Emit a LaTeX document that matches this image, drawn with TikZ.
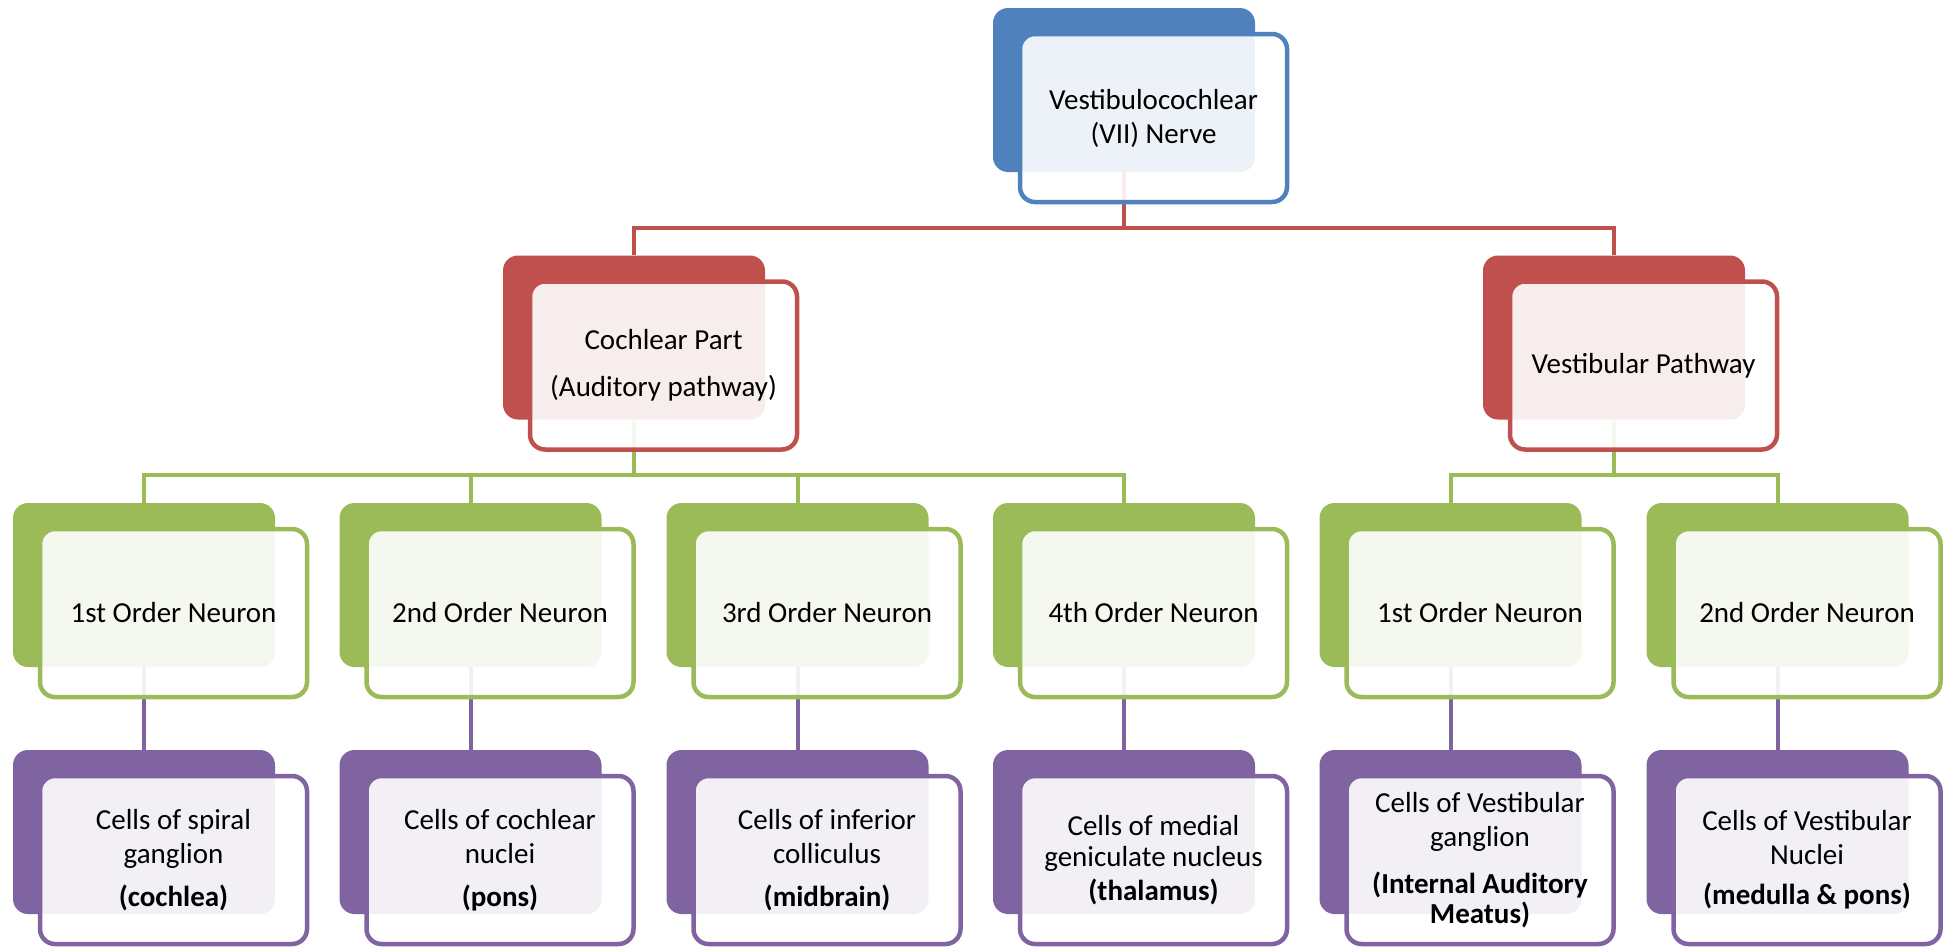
\documentclass[tikz,border=0pt]{standalone}
\usepackage{fontspec}
\setmainfont{Carlito}

\definecolor{nerveblue}{HTML}{4F81BD}
\definecolor{partred}{HTML}{C0504D}
\definecolor{neurongreen}{HTML}{9BBB59}
\definecolor{cellpurple}{HTML}{8064A2}

\tikzset{
  back/.style={rectangle, rounded corners=7.5pt, fill=#1, inner sep=0pt,
    minimum width=131pt, minimum height=82pt},
  front/.style={rectangle, rounded corners=7.5pt, draw=#1, line width=2.25pt,
    fill=white, fill opacity=0.9, text opacity=1, inner sep=2pt,
    minimum width=133.5pt, minimum height=84pt, align=center,
    font=\fontsize{14.5}{17}\selectfont},
  link/.style={draw=#1, line width=2pt},
}

\begin{document}
\begin{tikzpicture}[x=0.5pt, y=-0.5pt]

  \useasboundingbox (0,0) rectangle (1948,948);

  % back plates
  \node[back=nerveblue] (nerve-b) at (1124,90) {};
  \node[back=partred] (coch-b) at (634,337.5) {};
  \node[back=partred] (vest-b) at (1614,337.5) {};

  \node[back=neurongreen] (n1-b) at (144,585) {};
  \node[back=neurongreen] (n2-b) at (470.5,585) {};
  \node[back=neurongreen] (n3-b) at (797.5,585) {};
  \node[back=neurongreen] (n4-b) at (1124,585) {};
  \node[back=neurongreen] (v1-b) at (1450.5,585) {};
  \node[back=neurongreen] (v2-b) at (1777.5,585) {};

  \node[back=cellpurple] (c1-b) at (144,832) {};
  \node[back=cellpurple] (c2-b) at (470.5,832) {};
  \node[back=cellpurple] (c3-b) at (797.5,832) {};
  \node[back=cellpurple] (c4-b) at (1124,832) {};
  \node[back=cellpurple] (c5-b) at (1450.5,832) {};
  \node[back=cellpurple] (c6-b) at (1777.5,832) {};

  % connectors
  \coordinate (bus1) at (1124,228);
  \coordinate (bus2) at (634,475);
  \coordinate (bus3) at (1614,475);

  \draw[link=partred] (nerve-b.south) -- (bus1) -| (coch-b.north);
  \draw[link=partred] (bus1) -| (vest-b.north);

  \draw[link=neurongreen] (coch-b.south) -- (bus2) -| (n1-b.north);
  \draw[link=neurongreen] (bus2) -| (n2-b.north);
  \draw[link=neurongreen] (bus2) -| (n3-b.north);
  \draw[link=neurongreen] (bus2) -| (n4-b.north);
  \draw[link=neurongreen] (vest-b.south) -- (bus3) -| (v1-b.north);
  \draw[link=neurongreen] (bus3) -| (v2-b.north);

  \draw[link=cellpurple] (n1-b.south) -- (c1-b.north);
  \draw[link=cellpurple] (n2-b.south) -- (c2-b.north);
  \draw[link=cellpurple] (n3-b.south) -- (c3-b.north);
  \draw[link=cellpurple] (n4-b.south) -- (c4-b.north);
  \draw[link=cellpurple] (v1-b.south) -- (c5-b.north);
  \draw[link=cellpurple] (v2-b.south) -- (c6-b.north);

  % front cards
  \node[front=nerveblue] (nerve) at ([shift={(29.5,28)}]nerve-b.center)
    {Vestibulocochlear\\(VII) Nerve};
  \node[front=partred] (coch) at ([shift={(29.5,28)}]coch-b.center)
    {Cochlear Part\\[6.5pt](Auditory pathway)};
  \node[front=partred] (vest) at ([shift={(29.5,28)}]vest-b.center)
    {Vestibular Pathway};

  \node[front=neurongreen] (n1) at ([shift={(29.5,28)}]n1-b.center) {1st Order Neuron};
  \node[front=neurongreen] (n2) at ([shift={(29.5,28)}]n2-b.center) {2nd Order Neuron};
  \node[front=neurongreen] (n3) at ([shift={(29.5,28)}]n3-b.center) {3rd Order Neuron};
  \node[front=neurongreen] (n4) at ([shift={(29.5,28)}]n4-b.center) {4th Order Neuron};
  \node[front=neurongreen] (v1) at ([shift={(29.5,28)}]v1-b.center) {1st Order Neuron};
  \node[front=neurongreen] (v2) at ([shift={(29.5,28)}]v2-b.center) {2nd Order Neuron};

  \node[front=cellpurple] (c1) at ([shift={(29.5,28)}]c1-b.center)
    {Cells of spiral\\ganglion\\[4.5pt]\textbf{(cochlea)}};
  \node[front=cellpurple] (c2) at ([shift={(29.5,28)}]c2-b.center)
    {Cells of cochlear\\nuclei\\[4.5pt]\textbf{(pons)}};
  \node[front=cellpurple] (c3) at ([shift={(29.5,28)}]c3-b.center)
    {Cells of inferior\\colliculus\\[4.5pt]\textbf{(midbrain)}};
  \node[front=cellpurple] (c4) at ([shift={(29.5,28)}]c4-b.center)
    {Cells of medial\\[-1.5pt]geniculate nucleus\\\textbf{(thalamus)}};
  \node[front=cellpurple] (c5) at ([shift={(29.5,28)}]c5-b.center)
    {Cells of Vestibular\\ganglion\\[6.5pt]\textbf{(Internal Auditory}\\[-2pt]\textbf{Meatus)}};
  \node[front=cellpurple] (c6) at ([shift={(29.5,28)}]c6-b.center)
    {Cells of Vestibular\\Nuclei\\[3pt]\textbf{(medulla \& pons)}};

\end{tikzpicture}
\end{document}
